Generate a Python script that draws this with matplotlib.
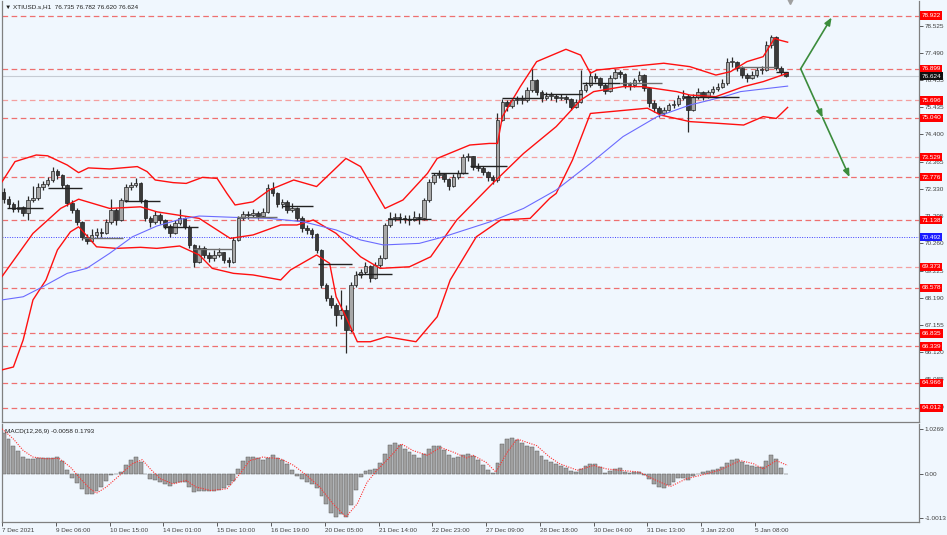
import numpy as np
import matplotlib.pyplot as plt

# XTIUSD H1 chart, bars grouped by 3 hours; x is hours from the first bar (7 Dec 2021)

closes = [71.95, 71.76, 71.55, 71.65, 71.42, 71.90, 71.98, 72.40, 72.52, 72.67,
          73.00, 72.86, 72.48, 71.80, 71.53, 71.07, 70.50, 70.35, 70.58, 70.70,
          70.65, 71.07, 71.53, 71.15, 71.91, 72.40, 72.48, 72.55, 71.91, 71.22,
          71.07, 71.34, 71.15, 70.92, 70.65, 71.03, 71.22, 70.88, 70.20, 69.55,
          70.08, 69.82, 69.70, 69.82, 69.93, 69.63, 69.55, 70.39, 71.22, 71.38,
          71.34, 71.42, 71.30, 71.45, 72.36, 72.17, 71.76, 71.83, 71.53, 71.60,
          71.22, 70.84, 70.77, 70.62, 70.01, 68.68, 68.19, 67.92, 67.54, 67.73,
          66.96, 68.68, 69.06, 69.17, 69.40, 68.94, 69.44, 69.70, 70.96, 71.22,
          71.26, 71.22, 71.19, 71.15, 71.26, 71.22, 71.91, 72.59, 72.86, 72.90,
          72.71, 72.44, 72.78, 72.94, 73.54, 73.58, 73.16, 73.13, 72.97, 72.78,
          72.67, 74.95, 75.63, 75.48, 75.71, 75.71, 75.71, 76.09, 76.47, 76.02,
          75.79, 75.86, 75.86, 75.79, 75.83, 75.75, 75.45, 75.64, 76.09, 76.28,
          76.62, 76.55, 76.28, 76.05, 76.55, 76.78, 76.70, 76.28, 76.28, 76.47,
          76.66, 76.17, 75.60, 75.41, 75.22, 75.33, 75.52, 75.56, 75.79, 75.86,
          75.33, 75.83, 76.02, 75.83, 76.02, 76.13, 76.21, 76.36, 77.16, 77.16,
          76.93, 76.66, 76.55, 76.66, 76.85, 76.85, 77.80, 78.11, 76.93, 76.78,
          76.62]
highs = [72.35, 72.05, 71.85, 71.90, 71.70, 72.05, 72.45, 72.55, 72.65, 72.80,
         73.15, 73.10, 72.90, 72.50, 71.90, 71.60, 71.10, 70.60, 70.80, 70.85,
         70.85, 71.20, 71.95, 71.60, 72.00, 72.50, 72.60, 72.75, 72.60, 71.95,
         71.30, 71.50, 71.40, 71.20, 71.00, 71.15, 71.55, 71.25, 70.95, 70.25,
         70.20, 70.15, 69.95, 70.00, 70.10, 69.95, 69.75, 70.50, 71.30, 71.50,
         71.50, 71.55, 71.50, 71.60, 72.50, 72.60, 72.20, 71.95, 71.90, 71.80,
         71.65, 71.30, 70.95, 70.85, 70.65, 70.05, 68.75, 68.30, 68.00, 68.50,
         67.90, 68.80, 69.20, 69.30, 69.55, 69.45, 69.55, 69.80, 71.05, 71.45,
         71.40, 71.40, 71.35, 71.35, 71.50, 71.40, 72.00, 72.70, 72.95, 73.05,
         72.95, 72.75, 72.90, 73.05, 73.65, 73.70, 73.60, 73.30, 73.20, 73.00,
         72.85, 75.20, 75.75, 75.70, 75.80, 75.85, 75.90, 76.20, 76.90, 76.50,
         76.10, 76.00, 76.00, 75.95, 75.95, 75.90, 75.80, 75.75, 76.85, 76.40,
         76.80, 76.75, 76.60, 76.35, 76.65, 76.90, 76.85, 76.75, 76.40, 76.55,
         76.80, 76.70, 76.20, 75.70, 75.50, 75.45, 75.60, 75.70, 75.90, 76.10,
         75.95, 75.95, 76.15, 76.05, 76.10, 76.25, 76.35, 76.50, 77.30, 77.35,
         77.20, 77.00, 76.75, 76.80, 76.95, 77.00, 77.95, 78.20, 78.15, 77.00,
         76.78]
lows = [71.80, 71.60, 71.45, 71.45, 71.30, 71.15, 71.85, 71.90, 72.30, 72.45,
        72.60, 72.70, 72.35, 71.70, 71.40, 70.95, 70.40, 70.25, 70.30, 70.45,
        70.50, 70.60, 71.00, 70.95, 71.10, 71.85, 72.30, 72.40, 71.80, 71.10,
        70.90, 71.00, 71.00, 70.80, 70.50, 70.60, 70.95, 70.80, 70.10, 69.35,
        69.50, 69.70, 69.55, 69.60, 69.75, 69.50, 69.35, 69.50, 70.35, 71.15,
        71.20, 71.25, 71.20, 71.25, 71.40, 72.05, 71.65, 71.60, 71.40, 71.45,
        71.10, 70.70, 70.60, 70.45, 69.90, 68.55, 68.05, 67.80, 67.10, 67.40,
        66.10, 66.90, 68.60, 68.95, 69.10, 68.80, 68.90, 69.35, 69.65, 70.90,
        71.10, 71.05, 71.05, 70.95, 71.10, 71.00, 71.15, 71.85, 72.50, 72.75,
        72.60, 72.30, 72.40, 72.70, 72.90, 73.40, 73.05, 73.00, 72.85, 72.65,
        72.50, 72.60, 74.90, 75.30, 75.40, 75.55, 75.55, 75.65, 76.00, 75.90,
        75.65, 75.70, 75.70, 75.65, 75.70, 75.60, 75.35, 75.40, 75.60, 76.00,
        76.20, 76.40, 76.15, 75.95, 76.00, 76.50, 76.55, 76.15, 76.10, 76.20,
        76.40, 76.05, 75.45, 75.25, 75.05, 75.15, 75.30, 75.40, 75.50, 75.70,
        74.50, 75.30, 75.75, 75.70, 75.80, 75.95, 76.05, 76.15, 76.30, 76.95,
        76.80, 76.55, 76.40, 76.50, 76.60, 76.70, 76.80, 77.70, 76.85, 76.65,
        76.58]
first_open = 72.20

macd = [0.92, 0.79, 0.64, 0.52, 0.38, 0.33, 0.33, 0.35, 0.36, 0.35,
        0.35, 0.38, 0.30, 0.08, -0.09, -0.20, -0.34, -0.46, -0.46, -0.40,
        -0.30, -0.16, -0.03, 0.00, 0.03, 0.20, 0.32, 0.39, 0.27, -0.01,
        -0.11, -0.15, -0.19, -0.23, -0.27, -0.21, -0.19, -0.19, -0.29, -0.41,
        -0.38, -0.38, -0.38, -0.38, -0.36, -0.32, -0.26, -0.17, 0.10, 0.30,
        0.39, 0.38, 0.36, 0.32, 0.36, 0.42, 0.37, 0.31, 0.23, 0.09,
        -0.05, -0.12, -0.18, -0.23, -0.33, -0.50, -0.68, -0.88, -0.98, -0.91,
        -0.98, -0.72, -0.36, -0.07, 0.07, 0.09, 0.10, 0.25, 0.45, 0.65,
        0.70, 0.66, 0.57, 0.50, 0.43, 0.37, 0.44, 0.56, 0.64, 0.63,
        0.55, 0.43, 0.37, 0.39, 0.42, 0.45, 0.41, 0.32, 0.20, 0.08,
        0.01, 0.25, 0.68, 0.80, 0.82, 0.76, 0.70, 0.64, 0.61, 0.52,
        0.40, 0.31, 0.26, 0.22, 0.18, 0.13, 0.06, 0.03, 0.11, 0.17,
        0.22, 0.22, 0.15, 0.02, 0.06, 0.11, 0.14, 0.05, 0.01, 0.03,
        0.05, -0.03, -0.12, -0.23, -0.31, -0.32, -0.25, -0.19, -0.10, -0.10,
        -0.14, -0.06, 0.00, 0.03, 0.06, 0.09, 0.12, 0.15, 0.24, 0.32,
        0.33, 0.27, 0.21, 0.17, 0.15, 0.15, 0.29, 0.42, 0.34, 0.13,
        -0.006]

sig_h = [0, 7, 13, 19, 27, 35, 42, 48, 54, 58, 64, 72, 80, 86, 91, 97, 105, 113, 119, 128,
         138, 146, 152, 160, 171, 179, 187, 195, 203, 211, 218, 224, 230, 238, 245, 252, 261,
         269, 277, 285, 289, 297, 303, 310, 316, 328, 336, 342, 353, 363, 371, 379, 391, 399,
         410, 420, 428, 440, 453, 461, 467, 475, 482]
sig_v = [1.02, 0.79, 0.53, 0.38, 0.34, 0.35, 0.15, -0.11, -0.34, -0.44, -0.30, -0.04, 0.23,
         0.32, 0.11, -0.11, -0.23, -0.15, -0.30, -0.38, -0.34, 0.00, 0.30, 0.38, 0.34, 0.19,
         -0.04, -0.30, -0.68, -0.98, -0.68, -0.19, 0.08, 0.38, 0.68, 0.53, 0.42, 0.60, 0.49,
         0.36, 0.42, 0.26, 0.04, 0.49, 0.79, 0.64, 0.38, 0.23, 0.08, 0.19, 0.11, 0.08, 0.04,
         -0.11, -0.29, -0.11, -0.04, 0.08, 0.30, 0.23, 0.11, 0.30, 0.19]

# Bollinger bands and moving average
upper_h = [0, 8, 21, 28, 40, 47, 53, 66, 83, 89, 94, 105, 113, 123, 132, 138, 143, 154, 164, 179,
           193, 211, 220, 235, 246, 261, 267, 287, 299, 304, 307, 318, 328, 346, 355, 361, 365,
           385, 406, 422, 438, 447, 457, 467, 474, 477, 482]
upper_p = [72.60, 73.37, 73.62, 73.59, 73.24, 72.95, 73.13, 73.09, 73.18, 72.99, 72.67, 72.57,
           72.54, 72.77, 72.73, 72.16, 71.72, 71.84, 72.29, 72.67, 72.42, 73.49, 73.18, 71.59,
           71.91, 72.92, 73.49, 74.00, 74.06, 74.06, 75.08, 76.22, 77.17, 77.64, 77.42, 76.73,
           76.85, 76.98, 77.11, 76.98, 76.66, 76.79, 77.17, 77.36, 78.06, 77.99, 77.91]
mid_h = [0, 19, 36, 47, 66, 85, 95, 121, 140, 154, 171, 181, 191, 205, 220, 232, 250, 263, 279,
         301, 320, 340, 355, 363, 381, 393, 414, 422, 438, 455, 467, 482]
mid_p = [69.00, 70.64, 71.59, 71.94, 71.59, 71.65, 71.46, 71.21, 70.45, 70.58, 70.96, 70.96,
         71.15, 70.64, 69.75, 69.31, 69.37, 69.75, 71.15, 72.54, 73.68, 74.70, 75.71, 76.03,
         76.22, 76.22, 76.03, 75.90, 75.84, 76.22, 76.41, 76.73]
low_h = [0, 7, 13, 19, 27, 34, 42, 47, 50, 58, 70, 85, 95, 109, 121, 129, 142, 154, 171, 177,
         193, 201, 205, 211, 218, 226, 236, 254, 267, 275, 291, 306, 324, 336, 340, 350, 361,
         396, 404, 422, 438, 455, 467, 475, 482]
low_p = [65.45, 65.56, 66.59, 68.11, 68.87, 70.01, 70.70, 70.89, 70.69, 70.13, 70.07, 70.11,
         70.07, 70.16, 69.82, 69.31, 69.12, 69.06, 68.87, 69.25, 69.82, 69.50, 68.23, 67.47,
         66.52, 66.52, 66.71, 66.52, 67.47, 68.87, 70.51, 71.15, 71.21, 71.97, 72.16, 73.43,
         75.20, 75.40, 75.14, 74.89, 74.83, 74.76, 75.08, 75.01, 75.43]
ma_h = [0, 13, 25, 40, 52, 66, 80, 95, 109, 121, 142, 164, 185, 205, 220, 234, 256, 271, 287,
        299, 320, 340, 361, 381, 402, 422, 443, 453, 482]
ma_p = [68.11, 68.23, 68.61, 69.12, 69.31, 69.88, 70.51, 70.92, 71.17, 71.30, 71.25, 71.21,
        71.08, 70.77, 70.39, 70.20, 70.26, 70.51, 70.83, 71.07, 71.59, 72.29, 73.30, 74.32,
        75.08, 75.52, 75.84, 76.03, 76.24]

# daily open segments
piv_start = [3, 28, 49, 75, 99, 117, 144, 172, 194, 218, 237, 263, 287, 307, 332, 356, 379, 418, 452, 475]
piv_end = [25, 49, 74, 97, 120, 141, 169, 191, 215, 239, 263, 286, 310, 332, 356, 379, 405, 452, 475, 482]
piv_price = [71.62, 72.35, 70.48, 71.87, 70.87, 70.05, 71.25, 71.68, 69.48, 69.10, 71.17, 72.92,
             73.20, 75.78, 75.94, 76.35, 76.37, 75.84, 76.98, 76.79]
piv_dark = [1, 1, 0, 1, 1, 0, 0, 1, 1, 1, 1, 1, 1, 1, 1, 1, 0, 1, 0, 1]

levels = [78.922, 76.899, 75.696, 75.040, 73.529, 72.776, 71.138, 69.373, 68.578, 66.835, 66.339, 64.966, 64.012]
level_light = [0, 0, 1, 0, 1, 0, 0, 1, 0, 0, 0, 0, 0]
blue_level = 70.492
last_price = 76.624

price_ticks = [78.525, 77.490, 76.455, 75.435, 74.400, 73.365, 72.330, 71.295, 70.260,
               69.225, 68.190, 67.155, 66.120, 65.085, 64.050]
macd_ticks = [1.0269, 0.0, -1.0013]
macd_tick_labels = ['1.0269', '0.00', '-1.0013']

time_ticks = [0, 33, 66, 99, 132, 165, 198, 231, 264, 297, 330, 363, 396, 429, 462]
time_labels = ['7 Dec 2021', '9 Dec 06:00', '10 Dec 15:00', '14 Dec 01:00', '15 Dec 10:00',
               '16 Dec 19:00', '20 Dec 05:00', '21 Dec 14:00', '22 Dec 23:00', '27 Dec 09:00',
               '28 Dec 18:00', '30 Dec 04:00', '31 Dec 13:00', '3 Jan 22:00', '5 Jan 08:00']

arrow_start = (490, 76.899)
arrow_up = (509, 78.85)
arrow_mid = (503.5, 75.04)
arrow_down = (520, 72.78)

header = '\u25bc XTIUSD.s,H1  76.735 76.782 76.620 76.624'
macd_title = 'MACD(12,26,9) -0.0058 0.1793'

# ---------------------------------------------------------------

plt.rcParams['font.family'] = ['Liberation Sans', 'DejaVu Sans']
bg = '#f0f7fe'
W, H = 947, 535


def box(x0, y0, x1, y1):
    return [x0 / W, 1 - y1 / H, (x1 - x0) / W, (y1 - y0) / H]


fig = plt.figure(figsize=(W / 100, H / 100), dpi=100, facecolor=bg)
ax = fig.add_axes(box(2, 1, 919, 422), facecolor=bg)
mx = fig.add_axes(box(2, 424, 919, 522), facecolor=bg, sharex=ax)

x_end = 562.6
ax.set_xlim(0, x_end)
ax.set_ylim(63.468, 79.476)
mx.set_ylim(-1.095, 1.131)

for a in (ax, mx):
    a.spines['top'].set_visible(False)
    for s in ('left', 'right', 'bottom'):
        a.spines[s].set_color('#808080')
        a.spines[s].set_linewidth(0.9)

# horizontal levels
for lv, light in zip(levels, level_light):
    ax.axhline(lv, color='#f4a0a0' if light else '#ee7070', lw=0.9,
               ls=(0, (4.5, 2.8)), zorder=1)
ax.axhline(blue_level, color='#4040ff', lw=0.7, ls=(0, (1, 1.5)), zorder=1)
ax.axhline(last_price, color='#c6ccd4', lw=0.8, zorder=1)

# candles: grey bodies, dark outlines and wicks
n = len(closes)
bx = 3 * np.arange(n) + 1
c = np.array(closes)
o = np.array([first_open] + closes[:-1])
hi = np.maximum(np.array(highs), np.maximum(o, c))
lo = np.minimum(np.array(lows), np.minimum(o, c))
up = c >= o
ax.vlines(bx, lo, hi, colors='#2a2a2a', lw=0.9, zorder=3)
body_lo = np.minimum(o, c)
body_h = np.maximum(np.abs(c - o), 0.03)
ax.bar(bx, body_h, bottom=body_lo, width=2.2,
       color=np.where(up, '#a8a8a8', '#3a3a3a'), edgecolor='#202020', lw=0.5, zorder=3)

# bands and average
ax.plot(upper_h, upper_p, color='#ff1010', lw=1.0, zorder=4)
ax.plot(mid_h, mid_p, color='#ff1010', lw=1.0, zorder=4)
ax.plot(low_h, low_p, color='#ff1010', lw=1.0, zorder=4)
ax.plot(ma_h, ma_p, color='#6b6bff', lw=0.8, zorder=4)

for s0, s1, p, d in zip(piv_start, piv_end, piv_price, piv_dark):
    ax.hlines(p, s0, s1, colors='#222222' if d else '#707070', lw=1.0, zorder=5)

# projection arrows
ap = dict(arrowstyle='-|>,head_length=0.45,head_width=0.18', color='#3c8c3c', lw=1.2,
          shrinkA=0, shrinkB=0)
ax.annotate('', xy=arrow_up, xytext=arrow_start, arrowprops=ap, zorder=6)
ax.annotate('', xy=arrow_mid, xytext=arrow_start, arrowprops=ap, zorder=6)
ax.annotate('', xy=arrow_down, xytext=arrow_mid, arrowprops=ap, zorder=6)
ax.plot([483.4], [79.476], marker='v', color='#a0a0a0', ms=4, clip_on=False, zorder=6)

# price axis
ax.yaxis.tick_right()
ax.set_yticks(price_ticks)
ax.set_yticklabels(['%.3f' % t for t in price_ticks])
ax.tick_params(axis='y', length=3, width=0.6, pad=1, labelsize=4.6, colors='#404040')
ax.tick_params(axis='x', bottom=False, labelbottom=False)

yt = ax.get_yaxis_transform()
for lv in levels:
    ax.text(1.0025, lv, '%.3f' % lv, transform=yt, fontsize=4.6, color='white', va='center',
            ha='left', clip_on=False, zorder=10,
            bbox=dict(boxstyle='square,pad=0.25', fc='#ff0000', ec='none'))
ax.text(1.0025, blue_level, '%.3f' % blue_level, transform=yt, fontsize=4.6, color='white',
        va='center', ha='left', clip_on=False, zorder=10,
        bbox=dict(boxstyle='square,pad=0.25', fc='#1a1aff', ec='none'))
ax.text(1.0025, last_price, '%.3f' % last_price, transform=yt, fontsize=4.6, color='white',
        va='center', ha='left', clip_on=False, zorder=11,
        bbox=dict(boxstyle='square,pad=0.25', fc='#101010', ec='none'))

ax.text(0.003, 0.993, header, transform=ax.transAxes, fontsize=4.6, color='#202020',
        va='top', ha='left')

# MACD panel
mx.bar(bx, macd, width=2.4, color='#a0a0a0', edgecolor='#5c5c5c', lw=0.35, zorder=2)
mx.plot(sig_h, sig_v, color='#ff3030', lw=0.8, ls=(0, (1, 1.2)), zorder=3)
mx.yaxis.tick_right()
mx.set_yticks(macd_ticks)
mx.set_yticklabels(macd_tick_labels)
mx.tick_params(axis='y', length=3, width=0.6, pad=1, labelsize=4.6, colors='#404040')
mx.set_xticks(time_ticks)
mx.set_xticklabels(time_labels, ha='left')
mx.tick_params(axis='x', length=3, width=0.6, pad=1.5, labelsize=4.6, colors='#404040')
mx.text(0.003, 0.95, macd_title, transform=mx.transAxes, fontsize=4.6, color='#202020',
        va='top', ha='left')

fig.savefig('out.png', dpi=100, facecolor=bg)
